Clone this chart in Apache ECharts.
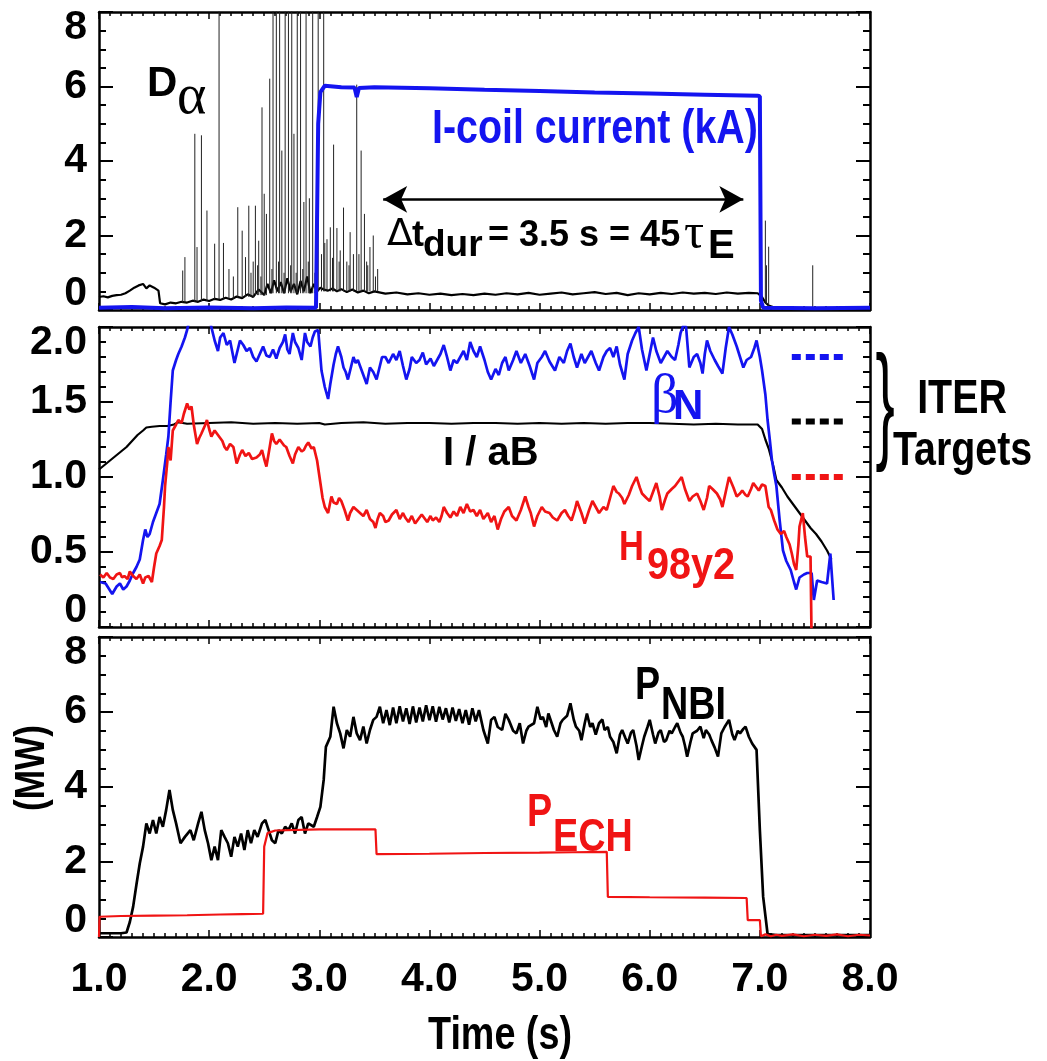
<!DOCTYPE html>
<html>
<head>
<meta charset="utf-8">
<script src="https://cdn.jsdelivr.net/npm/echarts@6.0.0/dist/echarts.min.js"></script>
<style>
html,body{margin:0;padding:0;background:#fff;}
#chart{width:1047px;height:1061px;}
</style>
</head>
<body>
<div id="chart"></div>
<script>
// ---------------- DATA ----------------
const xTickLabels = ['1.0','2.0','3.0','4.0','5.0','6.0','7.0','8.0'];

// Top panel: D-alpha baseline [t, value]
const dalphaBase = [[1.00,0.35],[1.04,0.37],[1.08,0.34],[1.12,0.38],[1.16,0.40],[1.20,0.41],[1.24,0.45],[1.28,0.52],[1.32,0.60],[1.36,0.66],[1.40,0.70],[1.43,0.58],[1.46,0.66],[1.50,0.60],[1.54,0.52],[1.555,0.18],[1.60,0.15],[1.65,0.20],[1.70,0.18],[1.75,0.22],[1.80,0.20],[1.85,0.25],[1.90,0.22],[1.95,0.28],[2.00,0.24],[2.05,0.30],[2.10,0.27],[2.15,0.33],[2.20,0.28],[2.25,0.36],[2.30,0.32],[2.35,0.42],[2.40,0.35],[2.45,0.55],[2.50,0.40],[2.53,0.70],[2.56,0.45],[2.59,0.80],[2.62,0.50],[2.65,0.75],[2.68,0.45],[2.71,0.85],[2.74,0.50],[2.77,0.70],[2.80,0.42],[2.83,0.78],[2.86,0.50],[2.89,0.90],[2.92,0.45],[2.95,0.70],[2.98,0.50],[3.01,0.60],[3.04,0.55],[3.08,0.52],[3.12,0.58],[3.16,0.50],[3.20,0.56],[3.25,0.48],[3.30,0.55],[3.35,0.47],[3.40,0.52],[3.45,0.45],[3.50,0.50],[3.60,0.44],[3.70,0.47],[3.80,0.42],[3.90,0.45],[4.00,0.41],[4.10,0.44],[4.20,0.40],[4.30,0.43],[4.40,0.40],[4.50,0.44],[4.60,0.41],[4.70,0.45],[4.80,0.42],[4.90,0.46],[5.00,0.41],[5.10,0.44],[5.20,0.47],[5.30,0.42],[5.40,0.45],[5.50,0.48],[5.60,0.43],[5.70,0.46],[5.80,0.40],[5.90,0.45],[6.00,0.42],[6.10,0.46],[6.20,0.43],[6.30,0.47],[6.40,0.44],[6.50,0.46],[6.60,0.43],[6.70,0.47],[6.80,0.44],[6.90,0.46],[6.98,0.45],[7.02,0.35],[7.05,0.20],[7.08,0.12],[7.12,0.08],[7.20,0.06],[7.40,0.05],[7.60,0.04],[7.80,0.05],[8.00,0.04]];

// Top panel: ELM spikes [t, foot, peak]
const elmSpikes = [[1.76,0.2,1.06],[1.78,0.2,1.42],[1.87,0.22,4.73],[1.89,0.22,1.69],[1.93,0.24,4.69],[1.98,0.24,2.67],[2.05,0.28,1.78],[2.09,0.28,8.6],[2.13,0.3,1.8],[2.18,0.3,1.1],[2.22,0.3,0.9],[2.26,0.32,2.76],[2.30,0.32,2.13],[2.33,0.35,1.42],[2.36,0.35,2.80],[2.38,0.35,1.0],[2.40,0.35,1.3],[2.42,0.4,2.80],[2.44,0.4,1.2],[2.45,0.4,1.86],[2.47,0.4,0.9],[2.48,0.4,5.44],[2.50,0.4,3.12],[2.52,0.4,2.58],[2.55,0.45,6.21],[2.57,0.45,1.1],[2.58,0.45,8.6],[2.61,0.45,8.6],[2.63,0.45,1.3],[2.64,0.45,8.6],[2.66,0.45,4.28],[2.68,0.45,1.0],[2.69,0.45,8.6],[2.72,0.45,8.6],[2.74,0.45,1.2],[2.75,0.45,8.6],[2.77,0.45,4.73],[2.79,0.45,1.0],[2.80,0.45,8.6],[2.83,0.45,8.6],[2.85,0.45,1.1],[2.86,0.45,2.9],[2.88,0.45,8.6],[2.90,0.45,1.3],[2.91,0.45,3.0],[2.94,0.45,8.6],[2.96,0.45,1.0],[2.99,0.5,8.6],[3.02,0.5,1.5],[3.04,0.5,8.6],[3.05,0.5,1.8],[3.07,0.5,1.9],[3.10,0.5,2.22],[3.12,0.5,1.4],[3.13,0.5,4.44],[3.16,0.5,2.2],[3.18,0.5,1.3],[3.19,0.5,1.6],[3.22,0.5,2.75],[3.25,0.5,1.3],[3.27,0.5,1.2],[3.28,0.5,2.09],[3.31,0.5,1.5],[3.34,0.5,6.05],[3.36,0.5,1.5],[3.38,0.5,4.28],[3.41,0.5,2.58],[3.43,0.5,1.3],[3.44,0.5,1.2],[3.46,0.5,1.69],[3.49,0.5,2.0],[3.51,0.5,0.9],[3.53,0.5,1.1],[7.05,0.2,2.4],[7.06,0.15,1.2],[7.08,0.1,1.7],[7.48,0.05,1.2]];

// Top panel: I-coil current (kA)
const icoil = [[1.00,0.06],[1.30,0.08],[1.60,0.05],[2.00,0.07],[2.40,0.05],[2.70,0.07],[2.97,0.06],[2.99,5.0],[3.01,5.85],[3.05,6.02],[3.20,5.98],[3.32,5.97],[3.34,5.72],[3.36,5.96],[3.50,5.98],[4.00,5.95],[4.50,5.91],[5.00,5.88],[5.50,5.84],[6.00,5.81],[6.50,5.78],[6.98,5.75],[7.00,5.74],[7.01,0.25],[7.03,0.06],[7.50,0.05],[8.00,0.06]];

// Duration arrow (top panel): start/end time and level
const arrowT = [3.58, 6.85];
const arrowLevel = 2.97;

// Middle panel: beta_N
const betaN = [[1.01,0.30],[1.06,0.29],[1.12,0.22],[1.16,0.27],[1.19,0.29],[1.22,0.25],[1.25,0.27],[1.28,0.31],[1.31,0.36],[1.34,0.40],[1.37,0.45],[1.40,0.58],[1.42,0.65],[1.44,0.60],[1.46,0.62],[1.49,0.70],[1.52,0.76],[1.55,0.82],[1.58,0.98],[1.61,1.15],[1.63,1.27],[1.65,1.50],[1.67,1.71],[1.70,1.78],[1.72,1.82],[1.75,1.87],[1.78,1.93],[1.80,1.98],[1.83,2.08],[1.87,2.12],[1.92,2.10],[1.97,2.15],[2.00,2.06],[2.02,2.0],[2.05,1.91],[2.08,1.84],[2.10,1.93],[2.13,1.96],[2.16,1.88],[2.19,1.91],[2.23,1.76],[2.26,1.85],[2.28,1.91],[2.31,1.88],[2.34,1.84],[2.37,1.86],[2.40,1.80],[2.43,1.77],[2.46,1.82],[2.49,1.87],[2.52,1.81],[2.55,1.80],[2.58,1.85],[2.61,1.79],[2.64,1.86],[2.67,1.90],[2.69,1.95],[2.71,1.85],[2.73,1.82],[2.76,1.96],[2.78,1.90],[2.81,1.86],[2.84,1.78],[2.87,1.96],[2.89,1.90],[2.92,1.87],[2.94,1.93],[2.96,1.97],[2.99,1.98],[3.02,1.71],[3.05,1.60],[3.08,1.52],[3.10,1.62],[3.13,1.75],[3.15,1.82],[3.17,1.87],[3.20,1.80],[3.22,1.73],[3.24,1.70],[3.26,1.65],[3.29,1.74],[3.31,1.80],[3.33,1.76],[3.35,1.78],[3.38,1.72],[3.40,1.68],[3.43,1.62],[3.46,1.73],[3.49,1.70],[3.52,1.65],[3.55,1.74],[3.57,1.80],[3.60,1.80],[3.63,1.76],[3.67,1.82],[3.70,1.78],[3.73,1.84],[3.76,1.74],[3.79,1.65],[3.82,1.72],[3.84,1.80],[3.88,1.76],[3.91,1.78],[3.94,1.83],[3.97,1.75],[4.01,1.79],[4.04,1.74],[4.07,1.78],[4.10,1.82],[4.13,1.88],[4.16,1.80],[4.19,1.71],[4.22,1.78],[4.25,1.76],[4.28,1.80],[4.31,1.84],[4.34,1.78],[4.37,1.90],[4.40,1.84],[4.43,1.80],[4.46,1.87],[4.50,1.78],[4.53,1.70],[4.56,1.65],[4.60,1.72],[4.63,1.68],[4.66,1.76],[4.69,1.80],[4.72,1.71],[4.76,1.78],[4.79,1.84],[4.83,1.76],[4.87,1.82],[4.91,1.74],[4.95,1.65],[4.98,1.76],[5.02,1.80],[5.05,1.84],[5.09,1.77],[5.14,1.71],[5.18,1.80],[5.22,1.76],[5.25,1.84],[5.28,1.89],[5.31,1.80],[5.34,1.73],[5.38,1.82],[5.41,1.76],[5.44,1.80],[5.47,1.84],[5.51,1.76],[5.54,1.71],[5.58,1.80],[5.61,1.84],[5.64,1.86],[5.67,1.80],[5.70,1.87],[5.73,1.75],[5.77,1.65],[5.80,1.82],[5.84,1.91],[5.87,1.96],[5.90,2.0],[5.93,1.85],[5.97,1.71],[6.00,1.82],[6.03,1.93],[6.06,1.84],[6.10,1.76],[6.13,1.80],[6.16,1.84],[6.20,1.80],[6.23,1.78],[6.26,1.88],[6.28,1.96],[6.31,2.02],[6.33,2.0],[6.36,1.73],[6.40,1.80],[6.43,1.82],[6.46,1.76],[6.48,1.69],[6.50,1.82],[6.52,1.91],[6.55,1.84],[6.59,1.78],[6.62,1.74],[6.66,1.69],[6.69,1.86],[6.72,2.0],[6.75,1.95],[6.79,1.87],[6.82,1.80],[6.85,1.73],[6.88,1.78],[6.92,1.80],[6.95,1.86],[6.97,1.91],[7.00,1.80],[7.02,1.71],[7.05,1.55],[7.07,1.38],[7.09,1.25],[7.11,1.11],[7.13,1.02],[7.15,0.94],[7.18,0.71],[7.21,0.51],[7.24,0.44],[7.28,0.38],[7.31,0.30],[7.33,0.25],[7.36,0.33],[7.40,0.35],[7.43,0.36],[7.47,0.36],[7.49,0.18],[7.52,0.31],[7.56,0.30],[7.61,0.29],[7.64,0.49],[7.67,0.18]];

// Middle panel: H98y2
const h98 = [[1.01,0.35],[1.04,0.33],[1.07,0.36],[1.10,0.33],[1.13,0.32],[1.16,0.35],[1.19,0.36],[1.21,0.33],[1.23,0.34],[1.26,0.32],[1.28,0.37],[1.31,0.34],[1.34,0.32],[1.37,0.35],[1.40,0.29],[1.42,0.33],[1.45,0.34],[1.48,0.30],[1.50,0.40],[1.52,0.49],[1.55,0.54],[1.57,0.58],[1.59,0.80],[1.60,0.94],[1.62,1.10],[1.63,1.20],[1.65,1.11],[1.67,1.31],[1.70,1.35],[1.72,1.38],[1.75,1.36],[1.77,1.42],[1.80,1.49],[1.82,1.45],[1.84,1.47],[1.86,1.35],[1.89,1.22],[1.91,1.26],[1.93,1.29],[1.96,1.34],[1.98,1.38],[2.00,1.32],[2.02,1.27],[2.05,1.31],[2.07,1.29],[2.10,1.26],[2.12,1.24],[2.14,1.20],[2.16,1.18],[2.19,1.22],[2.22,1.20],[2.25,1.09],[2.28,1.15],[2.30,1.18],[2.33,1.14],[2.36,1.16],[2.39,1.12],[2.43,1.13],[2.46,1.15],[2.48,1.18],[2.50,1.12],[2.52,1.07],[2.55,1.20],[2.57,1.29],[2.59,1.24],[2.61,1.22],[2.64,1.25],[2.66,1.23],[2.68,1.21],[2.70,1.20],[2.73,1.14],[2.76,1.09],[2.78,1.15],[2.81,1.20],[2.84,1.17],[2.86,1.18],[2.88,1.21],[2.90,1.23],[2.93,1.19],[2.95,1.20],[2.98,1.11],[3.01,0.96],[3.03,0.86],[3.05,0.80],[3.08,0.76],[3.11,0.87],[3.13,0.83],[3.16,0.82],[3.18,0.86],[3.20,0.84],[3.23,0.78],[3.26,0.71],[3.28,0.76],[3.31,0.80],[3.34,0.78],[3.37,0.76],[3.40,0.74],[3.43,0.78],[3.46,0.72],[3.49,0.70],[3.51,0.66],[3.53,0.72],[3.55,0.76],[3.58,0.74],[3.60,0.70],[3.63,0.71],[3.66,0.75],[3.70,0.78],[3.73,0.72],[3.76,0.76],[3.78,0.73],[3.81,0.70],[3.84,0.74],[3.87,0.69],[3.90,0.72],[3.93,0.75],[3.95,0.73],[3.98,0.70],[4.01,0.74],[4.03,0.71],[4.06,0.73],[4.09,0.70],[4.11,0.74],[4.13,0.80],[4.16,0.76],[4.19,0.73],[4.22,0.77],[4.25,0.74],[4.28,0.80],[4.31,0.76],[4.34,0.82],[4.37,0.77],[4.40,0.78],[4.43,0.74],[4.46,0.78],[4.49,0.72],[4.53,0.76],[4.56,0.70],[4.59,0.74],[4.62,0.65],[4.65,0.72],[4.68,0.77],[4.72,0.80],[4.75,0.74],[4.79,0.71],[4.83,0.78],[4.87,0.87],[4.90,0.80],[4.92,0.76],[4.95,0.67],[4.98,0.74],[5.02,0.80],[5.05,0.77],[5.09,0.76],[5.12,0.73],[5.16,0.71],[5.20,0.76],[5.23,0.78],[5.26,0.74],[5.29,0.71],[5.32,0.78],[5.34,0.84],[5.38,0.76],[5.41,0.69],[5.45,0.78],[5.48,0.84],[5.51,0.80],[5.54,0.76],[5.58,0.80],[5.61,0.78],[5.64,0.86],[5.67,0.94],[5.70,0.90],[5.72,0.89],[5.75,0.86],[5.77,0.82],[5.81,0.88],[5.84,0.94],[5.86,0.97],[5.88,1.00],[5.91,0.93],[5.93,0.89],[5.97,0.86],[6.00,0.84],[6.03,0.90],[6.06,0.96],[6.09,0.87],[6.11,0.78],[6.14,0.85],[6.16,0.89],[6.20,0.92],[6.23,0.94],[6.26,0.97],[6.29,1.00],[6.32,0.92],[6.36,0.84],[6.39,0.87],[6.43,0.89],[6.46,0.84],[6.49,0.78],[6.52,0.86],[6.54,0.94],[6.57,0.92],[6.61,0.89],[6.64,0.85],[6.66,0.80],[6.69,0.90],[6.72,1.00],[6.76,0.93],[6.79,0.87],[6.82,0.89],[6.84,0.91],[6.87,0.88],[6.89,0.87],[6.92,0.92],[6.94,0.96],[6.97,0.93],[6.99,0.91],[7.02,0.95],[7.05,0.94],[7.08,0.80],[7.10,0.78],[7.13,0.71],[7.16,0.65],[7.19,0.62],[7.22,0.64],[7.24,0.60],[7.27,0.55],[7.29,0.49],[7.31,0.42],[7.33,0.38],[7.35,0.55],[7.36,0.67],[7.39,0.76],[7.41,0.60],[7.43,0.47],[7.46,0.47],[7.47,-0.1]];

// Middle panel: I / aB
const iaB = [[1.00,1.05],[1.05,1.08],[1.10,1.11],[1.15,1.14],[1.20,1.17],[1.25,1.20],[1.30,1.24],[1.35,1.28],[1.40,1.31],[1.43,1.33],[1.48,1.335],[1.55,1.34],[1.62,1.34],[1.68,1.35],[1.72,1.365],[1.80,1.355],[2.00,1.36],[2.20,1.365],[2.40,1.355],[2.60,1.36],[2.80,1.355],[3.00,1.36],[3.05,1.35],[3.20,1.36],[3.40,1.365],[3.60,1.355],[3.80,1.36],[4.00,1.36],[4.20,1.355],[4.40,1.36],[4.60,1.36],[4.80,1.355],[5.00,1.36],[5.20,1.355],[5.40,1.36],[5.60,1.355],[5.80,1.36],[6.00,1.36],[6.20,1.355],[6.40,1.35],[6.60,1.355],[6.80,1.35],[6.98,1.35],[7.02,1.32],[7.05,1.25],[7.08,1.19],[7.12,1.08],[7.15,0.98],[7.20,0.93],[7.25,0.87],[7.30,0.82],[7.34,0.78],[7.41,0.71],[7.46,0.66],[7.51,0.62],[7.56,0.57],[7.61,0.51],[7.65,0.45]];

// ITER targets (dotted markers at right of middle panel)
const iterT = [7.29, 7.78];
const iterBetaN = 1.80;
const iterIaB = 1.37;
const iterH98 = 1.00;

// Bottom panel: P_NBI (MW)
const pnbi = [[1.00,0.10],[1.10,0.10],[1.20,0.10],[1.25,0.12],[1.28,0.40],[1.31,0.81],[1.34,1.40],[1.37,1.96],[1.40,2.41],[1.43,3.03],[1.46,2.76],[1.49,3.12],[1.52,2.76],[1.55,3.20],[1.58,2.94],[1.61,3.39],[1.64,3.92],[1.67,3.39],[1.70,3.03],[1.74,2.50],[1.78,2.67],[1.83,2.85],[1.86,2.58],[1.90,3.03],[1.93,3.34],[1.96,2.85],[1.99,2.50],[2.02,2.05],[2.05,2.41],[2.08,2.05],[2.11,2.85],[2.14,2.67],[2.17,2.50],[2.20,2.14],[2.23,2.67],[2.26,2.41],[2.29,2.76],[2.32,2.32],[2.35,2.85],[2.38,2.50],[2.41,2.85],[2.44,2.67],[2.48,3.03],[2.51,3.12],[2.54,2.85],[2.57,2.58],[2.60,2.50],[2.63,2.85],[2.66,2.76],[2.69,2.94],[2.72,2.85],[2.75,3.03],[2.78,2.76],[2.81,3.12],[2.84,3.20],[2.87,2.76],[2.90,3.03],[2.95,2.94],[2.98,3.20],[3.01,3.47],[3.04,4.19],[3.06,5.07],[3.10,5.34],[3.13,6.14],[3.16,5.70],[3.19,5.43],[3.22,5.03],[3.25,5.52],[3.28,5.34],[3.31,5.87],[3.34,5.43],[3.37,5.25],[3.40,5.61],[3.43,5.16],[3.46,5.52],[3.49,5.79],[3.52,5.87],[3.55,6.14],[3.58,5.70],[3.61,6.05],[3.64,5.65],[3.67,6.12],[3.70,5.70],[3.73,6.15],[3.76,5.75],[3.79,6.10],[3.82,5.68],[3.85,6.15],[3.88,5.72],[3.91,6.12],[3.94,5.75],[3.97,6.18],[4.00,5.78],[4.03,6.15],[4.06,5.74],[4.09,6.14],[4.12,5.80],[4.15,6.10],[4.18,5.72],[4.21,6.12],[4.24,5.76],[4.27,6.08],[4.30,5.70],[4.33,6.05],[4.36,5.66],[4.39,6.10],[4.42,5.75],[4.45,6.05],[4.49,5.52],[4.53,5.16],[4.56,5.79],[4.59,5.87],[4.62,5.60],[4.66,5.52],[4.69,5.95],[4.72,5.79],[4.76,5.50],[4.79,5.43],[4.82,5.70],[4.85,5.16],[4.88,5.50],[4.90,5.61],[4.95,5.70],[4.98,6.14],[5.01,5.80],[5.03,5.87],[5.06,5.60],[5.08,5.96],[5.11,5.70],[5.13,5.52],[5.16,5.34],[5.19,5.70],[5.21,5.79],[5.25,5.90],[5.28,6.23],[5.31,5.80],[5.33,5.61],[5.36,5.50],[5.38,5.25],[5.41,5.70],[5.43,5.96],[5.46,5.60],[5.48,5.70],[5.51,5.40],[5.54,5.70],[5.57,5.80],[5.59,5.52],[5.62,5.60],[5.64,5.34],[5.67,5.20],[5.70,4.90],[5.73,5.40],[5.75,5.52],[5.78,5.30],[5.80,5.16],[5.83,5.45],[5.85,5.52],[5.88,5.10],[5.90,4.72],[5.93,5.10],[5.95,5.34],[5.98,5.60],[6.00,5.79],[6.03,5.40],[6.05,5.16],[6.08,5.45],[6.10,5.52],[6.13,5.20],[6.15,5.25],[6.18,5.50],[6.20,5.43],[6.23,5.60],[6.25,5.70],[6.28,5.45],[6.30,5.34],[6.32,5.10],[6.34,4.81],[6.37,5.20],[6.39,5.43],[6.43,5.50],[6.46,5.61],[6.49,5.30],[6.51,5.52],[6.54,5.40],[6.56,5.25],[6.59,5.05],[6.62,4.81],[6.65,5.43],[6.68,5.60],[6.72,5.79],[6.75,5.40],[6.77,5.25],[6.80,5.50],[6.82,5.43],[6.85,5.55],[6.87,5.61],[6.90,5.34],[6.93,5.16],[6.97,4.99],[7.00,2.85],[7.03,1.07],[7.07,0.08],[7.15,0.05],[7.40,0.05],[7.70,0.05],[8.00,0.05]];

// Bottom panel: P_ECH (MW)
const pech = [[1.00,0.0],[1.005,0.54],[1.20,0.56],[1.50,0.57],[1.80,0.58],[2.10,0.60],[2.30,0.61],[2.49,0.62],[2.50,2.41],[2.53,2.77],[2.60,2.84],[3.00,2.87],[3.30,2.87],[3.51,2.87],[3.52,2.21],[4.00,2.22],[4.50,2.24],[5.00,2.25],[5.30,2.26],[5.61,2.27],[5.62,1.07],[6.00,1.06],[6.50,1.05],[6.88,1.04],[6.89,0.45],[7.00,0.45],[7.01,0.02],[7.05,0.07],[7.10,0.02],[7.15,0.06],[7.20,0.03],[7.30,0.07],[7.40,0.02],[7.50,0.06],[7.60,0.03],[7.70,0.07],[7.80,0.02],[7.90,0.06],[8.00,0.04]];

// ---------------- STYLE ----------------
const FONT = "'Liberation Sans', Arial, sans-serif";
const SERIF = "'Liberation Serif', 'DejaVu Serif', serif";
const BLUE = '#1414f0';
const RED = '#f01414';
const NARROW = 0.82;

function xAxisCfg(gi, pos, showLabel) {
  return {
    type: 'value', gridIndex: gi, position: pos, min: 1, max: 8, interval: 1,
    axisLine: { show: true, onZero: false, lineStyle: { color: '#000', width: 2.5 } },
    axisTick: { show: true, inside: true, length: 7, lineStyle: { color: '#000', width: 1.5 } },
    minorTick: { show: true, splitNumber: 10, length: 4, lineStyle: { color: '#000', width: 1.5 } },
    splitLine: { show: false }, minorSplitLine: { show: false },
    axisLabel: {
      show: showLabel, margin: 22, color: '#000', fontFamily: FONT, fontWeight: 'bold', fontSize: 41,
      formatter: v => xTickLabels[Math.round(v) - 1]
    }
  };
}
function yAxisCfg(gi, pos, min, max, interval, minorSplit, showLabel, fmt) {
  return {
    type: 'value', gridIndex: gi, position: pos, min: min, max: max, interval: interval,
    axisLine: { show: true, onZero: false, lineStyle: { color: '#000', width: 2.5 } },
    axisTick: { show: true, inside: true, length: 14, lineStyle: { color: '#000', width: 2 } },
    minorTick: { show: true, splitNumber: minorSplit, length: 7, lineStyle: { color: '#000', width: 2 } },
    splitLine: { show: false }, minorSplitLine: { show: false },
    axisLabel: {
      show: showLabel, margin: 12, color: '#000', fontFamily: FONT, fontWeight: 'bold', fontSize: 41,
      lineHeight: 32,
      verticalAlignMinLabel: 'bottom', verticalAlignMaxLabel: 'top',
      formatter: fmt
    }
  };
}
const intFmt = v => String(Math.round(v));
const decFmt = v => (v === 0 ? '0' : v.toFixed(1));

const grids = [
  { left: 99, right: 177, top: 12, height: 298 },
  { left: 99, right: 177, top: 327, height: 300 },
  { left: 99, right: 177, top: 637, height: 300 }
];

const xAxes = [
  xAxisCfg(0, 'bottom', false), xAxisCfg(0, 'top', false),
  xAxisCfg(1, 'bottom', false), xAxisCfg(1, 'top', false),
  xAxisCfg(2, 'bottom', true), xAxisCfg(2, 'top', false)
];
const yAxes = [
  yAxisCfg(0, 'left', 0, 8, 2, 4, true, intFmt), yAxisCfg(0, 'right', 0, 8, 2, 4, false, intFmt),
  yAxisCfg(1, 'left', 0, 2, 0.5, 5, true, decFmt), yAxisCfg(1, 'right', 0, 2, 0.5, 5, false, decFmt),
  yAxisCfg(2, 'left', 0, 8, 2, 4, true, intFmt), yAxisCfg(2, 'right', 0, 8, 2, 4, false, intFmt)
];

function lineSeries(gi, data, color, width, z) {
  return {
    type: 'line', xAxisIndex: 2 * gi, yAxisIndex: 2 * gi, data: data, showSymbol: false, symbol: 'none',
    lineStyle: { color: color, width: width }, itemStyle: { color: color }, z: z || 2,
    clip: true, connectNulls: false, silent: true
  };
}

// Spike polylines built from the elm table (broken with empty values)
const elmData = [];
elmSpikes.forEach(s => { elmData.push([s[0], s[1]], [s[0], s[2]], [s[0], '-']); });

const series = [];
const dBase = lineSeries(0, dalphaBase, '#000', 2.2, 2);
dBase.markLine = {
  silent: true, symbol: ['arrow', 'arrow'], symbolSize: [20, 24],
  label: { show: false },
  lineStyle: { color: '#000', width: 2.5, type: 'solid' },
  data: [[{ coord: [arrowT[0], arrowLevel] }, { coord: [arrowT[1], arrowLevel] }]]
};
series.push(dBase);
series.push(lineSeries(0, elmData, '#222', 1, 2));
series.push(lineSeries(0, icoil, BLUE, 4, 3));

series.push(lineSeries(1, iaB, '#000', 2.2, 2));
series.push(lineSeries(1, betaN, BLUE, 2.7, 3));
series.push(lineSeries(1, h98, RED, 2.7, 4));
[[iterBetaN, BLUE], [iterIaB, '#000'], [iterH98, RED]].forEach(([lv, c]) => {
  const s = lineSeries(1, [[iterT[0], lv], [iterT[1], lv]], c, 6, 5);
  s.lineStyle.type = [9, 5];
  s.lineStyle.cap = 'butt';
  series.push(s);
});

series.push(lineSeries(2, pnbi, '#000', 2.7, 2));
series.push(lineSeries(2, pech, RED, 2.2, 3));

function txt(x, y, text, font, color, opts) {
  opts = opts || {};
  const el = {
    type: 'text', x: x, y: y, silent: true, z: 100,
    scaleX: opts.scaleX || 1, rotation: opts.rotation || 0,
    style: { text: text, font: font, fill: color,
      align: opts.align || 'left', verticalAlign: 'middle',
      textAlign: opts.align || 'left', textVerticalAlign: 'middle' }
  };
  return el;
}
const B = (s) => 'bold ' + s + 'px ' + FONT;
const S = (s) => 'normal ' + s + 'px ' + SERIF;
const N = { scaleX: NARROW };

const graphics = [
  txt(147, 84, 'D', B(42), '#000'),
  txt(177, 98, 'α', S(56), '#000'),
  txt(432, 130, 'I-coil current (kA)', B(48), BLUE, N),
  txt(387, 235, 'Δ', 'normal 38px ' + "'DejaVu Sans', sans-serif", '#000'),
  txt(412, 236, 't', B(36), '#000'),
  txt(423, 246, 'dur', B(37), '#000'),
  txt(488, 236, '= 3.5 s = 45', B(36), '#000'),
  txt(684, 235, 'τ', S(50), '#000'),
  txt(708, 247, 'E', B(40), '#000'),
  txt(651, 398, 'β', S(54), BLUE),
  txt(673, 407, 'N', B(42), BLUE),
  txt(443, 454, 'I / aB', B(40), '#000'),
  txt(619, 548, 'H', B(42), RED, N),
  txt(647, 567, '98y2', B(44), RED, { scaleX: 0.9 }),
  txt(885, 410, '}', "normal 128px 'Liberation Sans', sans-serif", '#000', { scaleX: 0.45, align: 'center' }),
  txt(962, 400, 'ITER', B(48), '#000', { scaleX: NARROW, align: 'center' }),
  txt(893, 452, 'Targets', B(48), '#000', N),
  txt(635, 686, 'P', B(46), '#000', N),
  txt(661, 706, 'NBI', B(46), '#000', N),
  txt(527, 813, 'P', B(46), RED, N),
  txt(553, 838, 'ECH', B(46), RED, N),
  txt(32, 768, '(MW)', B(43), '#000', { scaleX: NARROW, rotation: Math.PI / 2, align: 'center' }),
  txt(500, 1036, 'Time (s)', B(46), '#000', { scaleX: NARROW, align: 'center' })
];

const chart = echarts.init(document.getElementById('chart'), null, { renderer: 'canvas' });
chart.setOption({
  animation: false,
  backgroundColor: '#fff',
  grid: grids,
  xAxis: xAxes,
  yAxis: yAxes,
  series: series,
  graphic: graphics
});
</script>
</body>
</html>
